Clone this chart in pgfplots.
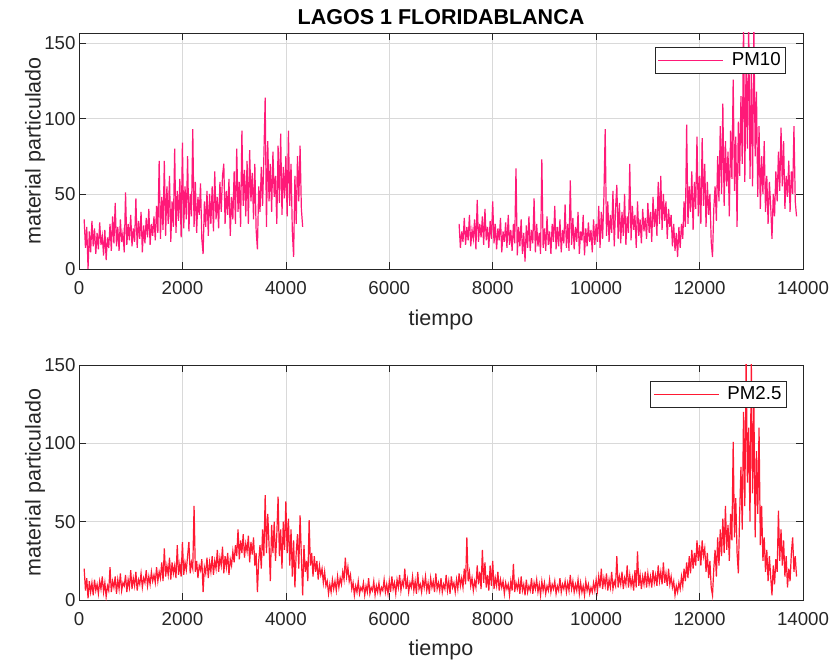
\documentclass[border=0pt]{standalone}
\usepackage{fontspec}
\setmainfont{Liberation Sans}
\usepackage{pgfplots}
\pgfplotsset{compat=1.18}
\definecolor{pmten}{RGB}{255,25,120}
\definecolor{pmtwo}{RGB}{255,25,50}
\definecolor{axgray}{RGB}{38,38,38}
\newcommand{\tickfont}{\fontsize{18.7}{20}\selectfont}
\newcommand{\labfont}{\fontsize{21.5}{24}\selectfont}

\pgfplotsset{
  mlaxis/.style={
    scale only axis, width=724pt,
    xmin=0, xmax=14000, ymin=0,
    xtick={0,2000,...,14000}, ytick={0,50,100,150},
    scaled x ticks=false, scaled y ticks=false,
    /pgf/number format/1000 sep={},
    /pgf/number format/assume math mode=true,
    tick label style={font=\tickfont, text=axgray},
    xticklabel style={yshift=-9pt},
    grid=major, major grid style={draw=black!15, line width=0.5pt},
    axis line style={draw=axgray, line width=0.6pt},
    tick style={draw=axgray, line width=0.6pt},
    major tick length=7pt, tick align=inside, tick pos=both,
    xticklabel pos=left, yticklabel pos=left,
    label style={font=\labfont, text=axgray},
    legend cell align=left,
    legend image code/.code={\draw[#1, line width=0.6pt] (0pt,0pt) -- (65pt,0pt); \path (71pt,0pt);},
    legend style={draw=axgray, line width=0.6pt, fill=white,
      font=\tickfont, text=black, inner xsep=3pt, inner ysep=3.5pt, anchor=north east},
  }
}

\begin{document}
\begin{tikzpicture}
\path[use as bounding box] (0,0) rectangle (838pt,664pt);

% --- PM10 ---
\begin{axis}[mlaxis, at={(79pt,395pt)}, anchor=south west, height=236pt, ymax=157,
  title={\bfseries LAGOS 1 FLORIDABLANCA},
  title style={font=\labfont, text=black, at={(0.5,1)}, anchor=south, yshift=-1pt},
  xlabel={tiempo}, ylabel={material particulado},
  x label style={at={(axis description cs:0.5,-0.216)}, anchor=center},
  y label style={at={(axis description cs:-0.0608,0.5)}, anchor=center},
  legend style={at={(rel axis cs:0.9765,0.9407)}}]
\addplot[pmten, line width=1.2pt] coordinates {
(100,33)(125,14)(150,28)(175,0)(200,25)(225,11)(250,32)(275,15)(300,27)(325,10)(350,24)(375,13)(400,31)(425,16)(450,22)(475,9)
(500,26)(525,6)(550,21)(575,14)(600,30)(625,12)(650,35)(675,17)(700,44)(725,15)(750,28)(775,12)(800,33)(825,18)(850,24)(875,11)(900,51)(925,16)(950,30)(975,19)
(1000,36)(1025,15)(1050,27)(1075,18)(1100,47)(1125,14)(1150,32)(1175,20)(1200,38)(1225,11)(1250,29)(1275,17)(1300,34)(1325,21)(1350,40)(1375,16)(1400,30)(1425,22)(1450,35)(1475,19)
(1500,42)(1525,24)(1550,72)(1575,20)(1600,48)(1625,26)(1650,72)(1675,22)(1700,55)(1725,30)(1750,62)(1775,18)(1800,45)(1825,28)(1850,80)(1875,24)(1900,52)(1925,32)(1950,60)(1975,21)
(2000,84)(2025,27)(2050,55)(2075,33)(2100,75)(2125,25)(2150,50)(2175,35)(2200,93)(2225,28)(2250,58)(2275,24)(2300,48)(2325,36)(2350,57)(2375,20)(2400,10)(2425,45)(2450,28)(2475,52)
(2500,22)(2525,50)(2550,30)(2575,55)(2600,25)(2625,65)(2650,33)(2675,48)(2700,27)(2725,58)(2750,38)(2775,62)(2800,70)(2825,30)(2850,52)(2875,36)(2900,60)(2925,22)(2950,48)(2975,33)
(3000,65)(3025,30)(3050,80)(3075,38)(3100,58)(3125,28)(3150,92)(3175,42)(3200,66)(3225,35)(3250,72)(3275,30)(3300,79)(3325,45)(3350,64)(3375,33)(3400,70)(3425,26)(3450,13)(3475,55)
(3500,38)(3525,68)(3550,42)(3575,75)(3600,114)(3625,28)(3650,85)(3675,45)(3700,70)(3725,38)(3750,78)(3775,48)(3800,62)(3825,30)(3850,82)(3875,44)(3900,90)(3925,36)(3950,68)(3975,47)
(4000,75)(4025,35)(4050,92)(4075,42)(4100,70)(4125,25)(4150,8)(4175,62)(4200,30)(4225,75)(4250,45)(4275,82)(4300,40)(4325,28)
};
\addlegendentry{PM10}
\addplot[pmten, line width=1.2pt, forget plot] coordinates {
(7350,30)(7375,14)(7400,25)(7425,18)(7450,34)(7475,16)
(7500,28)(7525,19)(7550,36)(7575,15)(7600,26)(7625,20)(7650,33)(7675,13)(7700,46)(7725,18)(7750,30)(7775,21)(7800,35)(7825,16)(7850,40)(7875,19)(7900,28)(7925,14)(7950,32)(7975,20)
(8000,45)(8025,17)(8050,30)(8075,13)(8100,27)(8125,19)(8150,34)(8175,11)(8200,25)(8225,18)(8250,31)(8275,14)(8300,36)(8325,16)(8350,26)(8375,12)(8400,30)(8425,17)(8450,67)(8475,9)
(8500,28)(8525,15)(8550,33)(8575,10)(8600,24)(8625,5)(8650,29)(8675,14)(8700,35)(8725,12)(8750,26)(8775,17)(8800,47)(8825,11)(8850,30)(8875,15)(8900,24)(8925,10)(8950,73)(8975,14)
(9000,27)(9025,12)(9050,35)(9075,16)(9100,25)(9125,10)(9150,30)(9175,18)(9200,42)(9225,13)(9250,28)(9275,15)(9300,33)(9325,11)(9350,26)(9375,17)(9400,43)(9425,14)(9450,30)(9475,12)
(9500,59)(9525,16)(9550,34)(9575,13)(9600,28)(9625,18)(9650,38)(9675,10)(9700,25)(9725,19)(9750,36)(9775,9)(9800,27)(9825,15)(9850,31)(9875,18)(9900,26)(9925,11)(9950,33)(9975,16)
(10000,30)(10025,18)(10050,42)(10075,14)(10100,38)(10125,20)(10150,48)(10175,93)(10200,22)(10225,45)(10250,18)(10275,36)(10300,24)(10325,52)(10350,15)(10375,40)(10400,56)(10425,20)(10450,44)(10475,17)
(10500,38)(10525,22)(10550,50)(10575,16)(10600,35)(10625,24)(10650,70)(10675,19)(10700,42)(10725,26)(10750,36)(10775,14)(10800,45)(10825,22)(10850,33)(10875,17)(10900,40)(10925,25)(10950,34)(10975,20)
(11000,44)(11025,24)(11050,38)(11075,18)(11100,48)(11125,28)(11150,40)(11175,22)(11200,58)(11225,30)(11250,62)(11275,26)(11300,50)(11325,32)(11350,45)(11375,20)(11400,40)(11425,28)(11450,36)(11475,15)
(11500,30)(11525,12)(11550,24)(11575,8)(11600,28)(11625,14)(11650,30)(11675,20)(11700,45)(11725,28)(11750,96)(11775,30)(11800,55)(11825,38)(11850,65)(11875,26)(11900,58)(11925,40)(11950,88)(11975,35)
(12000,62)(12025,30)(12050,87)(12075,42)(12100,70)(12125,28)(12150,58)(12175,36)(12200,50)(12225,18)(12250,8)(12275,40)(12300,55)(12325,32)(12350,75)(12375,45)(12400,95)(12425,50)(12450,110)(12475,42)
(12500,85)(12525,55)(12550,78)(12575,35)(12600,92)(12625,60)(12650,126)(12675,52)(12700,88)(12725,28)(12750,98)(12775,62)(12800,115)(12825,70)(12850,165)(12875,58)(12900,140)(12925,80)(12950,165)(12975,60)
(13000,130)(13025,55)(13050,165)(13075,75)(13100,118)(13125,48)(13150,95)(13175,40)(13200,75)(13225,50)(13250,85)(13275,38)(13300,62)(13325,30)(13350,58)(13375,42)(13400,20)(13425,50)(13450,35)(13475,65)
(13500,45)(13525,78)(13550,52)(13575,94)(13600,55)(13625,85)(13650,40)(13675,62)(13700,48)(13725,72)(13750,38)(13775,65)(13800,50)(13825,95)(13850,45)(13875,35)
};
\end{axis}

% --- PM2.5 ---
\begin{axis}[mlaxis, at={(79pt,64pt)}, anchor=south west, height=235pt, ymax=150,
  xlabel={tiempo}, ylabel={material particulado},
  x label style={at={(axis description cs:0.5,-0.213)}, anchor=center},
  y label style={at={(axis description cs:-0.0608,0.5)}, anchor=center},
  legend style={at={(rel axis cs:0.9775,0.932)}}]
\addplot[pmtwo, line width=1.2pt] coordinates {
(100,20)(125,6)(150,14)(175,1)(200,12)(225,5)(250,11)(275,3)(300,13)(325,6)(350,10)(375,4)(400,12)(425,7)(450,15)(475,5)
(500,11)(525,2)(550,9)(575,6)(600,21)(625,5)(650,12)(675,8)(700,15)(725,4)(750,13)(775,7)(800,17)(825,6)(850,11)(875,9)(900,16)(925,5)(950,13)(975,8)
(1000,19)(1025,7)(1050,14)(1075,9)(1100,18)(1125,6)(1150,13)(1175,10)(1200,17)(1225,8)(1250,14)(1275,11)(1300,19)(1325,9)(1350,15)(1375,10)(1400,18)(1425,12)(1450,16)(1475,11)
(1500,21)(1525,12)(1550,18)(1575,14)(1600,24)(1625,12)(1650,33)(1675,15)(1700,22)(1725,16)(1750,27)(1775,13)(1800,24)(1825,17)(1850,22)(1875,14)(1900,35)(1925,16)(1950,23)(1975,15)
(2000,37)(2025,16)(2050,24)(2075,19)(2100,28)(2125,37)(2150,17)(2175,24)(2200,20)(2225,60)(2250,18)(2275,25)(2300,14)(2325,22)(2350,19)(2375,26)(2400,5)(2425,21)(2450,17)(2475,27)
(2500,14)(2525,24)(2550,18)(2575,28)(2600,16)(2625,25)(2650,20)(2675,32)(2700,18)(2725,27)(2750,22)(2775,34)(2800,17)(2825,28)(2850,21)(2875,30)(2900,16)(2925,26)(2950,22)(2975,31)
(3000,24)(3025,35)(3050,28)(3075,45)(3100,26)(3125,38)(3150,30)(3175,42)(3200,27)(3225,36)(3250,31)(3275,41)(3300,24)(3325,37)(3350,29)(3375,40)(3400,22)(3425,30)(3450,5)(3475,25)
(3500,35)(3525,20)(3550,45)(3575,28)(3600,67)(3625,30)(3650,55)(3675,35)(3700,12)(3725,48)(3750,30)(3775,50)(3800,25)(3825,42)(3850,66)(3875,28)(3900,45)(3925,20)(3950,50)(3975,32)
(4000,63)(4025,30)(4050,52)(4075,22)(4100,45)(4125,15)(4150,38)(4175,8)(4200,30)(4225,42)(4250,20)(4275,54)(4300,28)(4325,3)(4350,35)(4375,18)(4400,25)(4425,12)(4450,51)(4475,22)
(4500,30)(4525,15)(4550,28)(4575,18)(4600,25)(4625,13)(4650,22)(4675,16)(4700,20)(4725,11)(4750,18)(4775,9)(4800,12)(4825,4)(4850,10)(4875,5)(4900,13)(4925,7)(4950,12)(4975,6)
(5000,15)(5025,8)(5050,14)(5075,10)(5100,18)(5125,13)(5150,27)(5175,15)(5200,21)(5225,12)(5250,16)(5275,7)(5300,11)(5325,3)(5350,9)(5375,5)(5400,12)(5425,4)(5450,8)(5475,6)
(5500,11)(5525,3)(5550,9)(5575,5)(5600,14)(5625,4)(5650,8)(5675,6)(5700,12)(5725,3)(5750,9)(5775,5)(5800,11)(5825,4)(5850,8)(5875,6)(5900,13)(5925,5)(5950,10)(5975,4)
(6000,12)(6025,5)(6050,15)(6075,7)(6100,11)(6125,4)(6150,13)(6175,8)(6200,16)(6225,6)(6250,12)(6275,9)(6300,20)(6325,7)(6350,13)(6375,5)(6400,11)(6425,8)(6450,15)(6475,6)
(6500,12)(6525,4)(6550,18)(6575,7)(6600,10)(6625,5)(6650,13)(6675,8)(6700,15)(6725,6)(6750,11)(6775,4)(6800,14)(6825,8)(6850,12)(6875,5)(6900,17)(6925,7)(6950,11)(6975,6)
(7000,14)(7025,5)(7050,10)(7075,7)(7100,16)(7125,6)(7150,12)(7175,4)(7200,15)(7225,8)(7250,11)(7275,5)(7300,13)(7325,7)(7350,17)(7375,9)(7400,14)(7425,8)(7450,20)(7475,10)
(7500,40)(7525,12)(7550,18)(7575,9)(7600,14)(7625,6)(7650,12)(7675,8)(7700,22)(7725,10)(7750,18)(7775,7)(7800,32)(7825,11)(7850,24)(7875,8)(7900,16)(7925,6)(7950,22)(7975,9)
(8000,25)(8025,7)(8050,14)(8075,9)(8100,18)(8125,6)(8150,13)(8175,8)(8200,12)(8225,4)(8250,11)(8275,7)(8300,10)(8325,3)(8350,12)(8375,6)(8400,23)(8425,5)(8450,11)(8475,7)
(8500,12)(8525,4)(8550,15)(8575,6)(8600,10)(8625,3)(8650,13)(8675,5)(8700,9)(8725,6)(8750,14)(8775,4)(8800,11)(8825,7)(8850,13)(8875,5)(8900,10)(8925,3)(8950,12)(8975,6)
(9000,11)(9025,4)(9050,9)(9075,6)(9100,13)(9125,5)(9150,10)(9175,7)(9200,12)(9225,4)(9250,9)(9275,6)(9300,14)(9325,5)(9350,10)(9375,7)(9400,12)(9425,5)(9450,11)(9475,6)
(9500,16)(9525,7)(9550,12)(9575,5)(9600,10)(9625,6)(9650,13)(9675,4)(9700,11)(9725,5)(9750,9)(9775,3)(9800,12)(9825,6)(9850,10)(9875,4)(9900,8)(9925,5)(9950,11)(9975,6)
(10000,13)(10025,6)(10050,15)(10075,8)(10100,20)(10125,7)(10150,14)(10175,9)(10200,17)(10225,6)(10250,13)(10275,8)(10300,18)(10325,7)(10350,12)(10375,9)(10400,28)(10425,8)(10450,15)(10475,10)
(10500,18)(10525,7)(10550,14)(10575,10)(10600,22)(10625,8)(10650,16)(10675,9)(10700,14)(10725,6)(10750,19)(10775,8)(10800,31)(10825,9)(10850,16)(10875,7)(10900,15)(10925,10)(10950,18)(10975,8)
(11000,17)(11025,10)(11050,15)(11075,8)(11100,19)(11125,11)(11150,16)(11175,9)(11200,22)(11225,12)(11250,18)(11275,10)(11300,24)(11325,11)(11350,17)(11375,9)(11400,20)(11425,10)(11450,15)(11475,8)
(11500,12)(11525,3)(11550,9)(11575,5)(11600,11)(11625,7)(11650,15)(11675,9)(11700,20)(11725,12)(11750,24)(11775,14)(11800,28)(11825,17)(11850,32)(11875,20)(11900,30)(11925,22)(11950,38)(11975,25)
(12000,35)(12025,22)(12050,38)(12075,28)(12100,33)(12125,18)(12150,30)(12175,14)(12200,25)(12225,8)(12250,3)(12275,20)(12300,32)(12325,15)(12350,40)(12375,22)(12400,45)(12425,28)(12450,52)(12475,30)
(12500,60)(12525,32)(12550,48)(12575,25)(12600,55)(12625,38)(12650,101)(12675,40)(12700,65)(12725,30)(12750,17)(12775,55)(12800,85)(12825,45)(12850,120)(12875,60)(12900,155)(12925,75)(12950,110)(12975,50)
(13000,155)(13025,68)(13050,125)(13075,40)(13100,95)(13125,55)(13150,110)(13175,35)(13200,60)(13225,25)(13250,40)(13275,18)(13300,32)(13325,12)(13350,28)(13375,15)(13400,3)(13425,22)(13450,10)(13475,26)
(13500,18)(13525,57)(13550,25)(13575,45)(13600,22)(13625,38)(13650,15)(13675,28)(13700,8)(13725,20)(13750,12)(13775,30)(13800,40)(13825,18)(13850,28)(13875,15)
};
\addlegendentry{PM2.5}
\end{axis}
\end{tikzpicture}
\end{document}
